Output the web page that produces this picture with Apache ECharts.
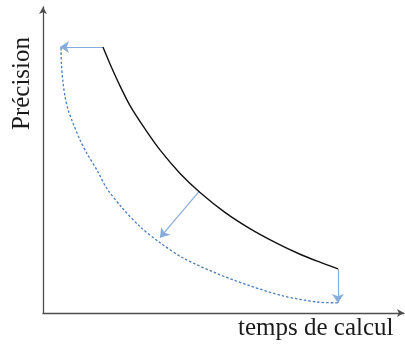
<!DOCTYPE html>
<html>
<head>
<meta charset="utf-8">
<script src="https://cdn.jsdelivr.net/npm/echarts@6/dist/echarts.min.js"></script>
<style>html,body{margin:0;padding:0;background:#fff;}#c{width:405px;height:349px;}</style>
</head>
<body>
<div id="c"></div>
<script>
// Axis titles
const xTitle = 'temps de calcul';
const yTitle = 'Précision';

// Black curve (current trade-off), in chart units 0-100
const curveX = [16.6, 18.6, 21.3, 24.1, 28.3, 32.4, 37.9, 43.5, 50.4, 57.3, 64.3, 71.2, 76.7, 81.7];
const curveY = [86.9, 81.3, 74.3, 67.8, 60.1, 53.3, 45.7, 39.4, 32.9, 27.6, 23.1, 19.2, 16.6, 14.4];

// Blue dashed curve (improved trade-off)
const dashX = [5.0, 5.1, 5.5, 6.1, 6.9, 8.0, 10.2, 12.2, 15.0, 17.7, 21.9, 26.9, 32.4, 38.8, 48.2, 57.3, 66.5, 75.9, 81.7];
const dashY = [86.6, 81.3, 75.7, 70.8, 66.6, 63.0, 56.7, 52.1, 46.6, 40.7, 34.4, 28.2, 23.0, 18.0, 12.9, 8.9, 5.6, 3.6, 3.3];

// Arrows: [fromX, fromY, toX, toY]
const arrowH = [16.6, 86.9, 4.7, 86.9];
const arrowD = [43.2, 39.7, 32.4, 24.6];
const arrowV = [81.7, 14.4, 81.7, 3.3];

const chart = echarts.init(document.getElementById('c'), null, {renderer: 'canvas'});
const zip = (xs, ys) => xs.map((x, i) => [x, ys[i]]);
const arrowData = [arrowH, arrowD, arrowV].map(a => ({coords: [[a[0], a[1]], [a[2], a[3]]]}));

chart.setOption({
  animation: false,
  grid: {left: 43, right: 1, top: 7, bottom: 36},
  xAxis: {
    type: 'value', min: 0, max: 100,
    axisLine: {show: true, onZero: false, symbol: ['none', 'arrow'], symbolSize: [6, 7], lineStyle: {color: '#4d4d4d', width: 1.3}},
    axisTick: {show: false}, axisLabel: {show: false}, splitLine: {show: false}
  },
  yAxis: {
    type: 'value', min: 0, max: 100,
    axisLine: {show: true, onZero: false, symbol: ['none', 'arrow'], symbolSize: [6, 7], lineStyle: {color: '#4d4d4d', width: 1.3}},
    axisTick: {show: false}, axisLabel: {show: false}, splitLine: {show: false}
  },
  series: [
    {
      type: 'line', data: zip(curveX, curveY), smooth: 0.3, showSymbol: false,
      lineStyle: {color: '#111', width: 1.4}
    },
    {
      type: 'line', data: zip(dashX, dashY), smooth: 0.3, showSymbol: false,
      lineStyle: {color: '#4a7ebb', width: 1.3, type: [2.5, 2]}
    },
    {
      type: 'lines', coordinateSystem: 'cartesian2d',
      symbol: ['none', 'arrow'], symbolSize: [0, 9],
      lineStyle: {color: '#86acdc', width: 1.2, opacity: 1, curveness: 0},
      itemStyle: {color: '#4a7ebb'},
      data: arrowData
    }
  ],
  graphic: [
    {type: 'text', left: 238, top: 316,
     style: {text: xTitle, font: '25px "Liberation Serif"', fill: '#1a1a1a'}},
    {type: 'text', x: 10, y: 130, rotation: Math.PI / 2,
     style: {text: yTitle, font: '25px "Liberation Serif"', fill: '#1a1a1a', textAlign: 'left', textVerticalAlign: 'top'}}
  ]
});
</script>
</body>
</html>
